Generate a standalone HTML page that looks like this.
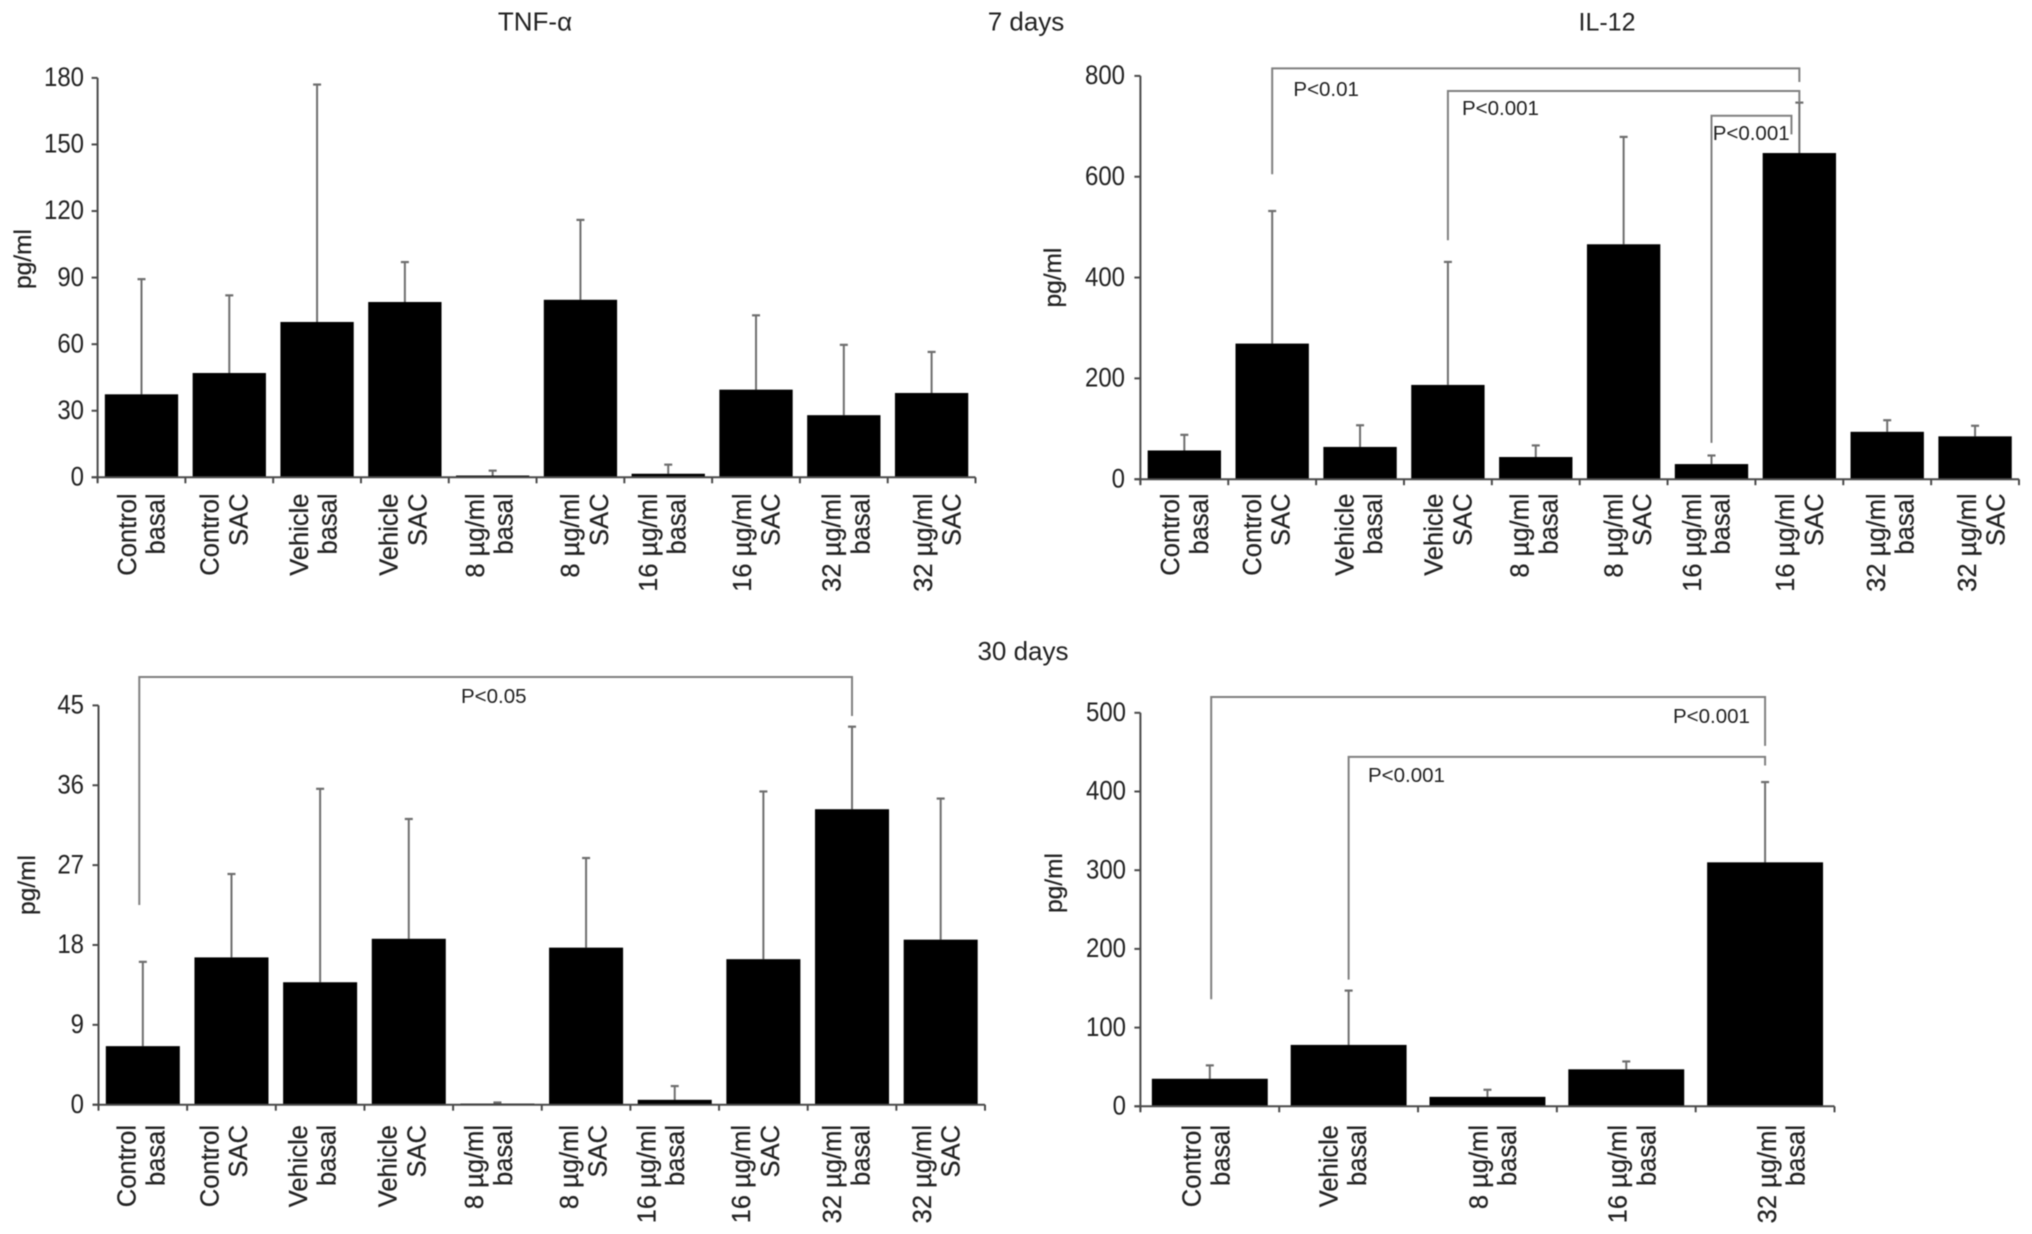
<!DOCTYPE html>
<html lang="en">
<head>
<meta charset="utf-8">
<title>TNF-α and IL-12 at 7 and 30 days</title>
<style>
html,body{margin:0;padding:0;background:#fff;width:2032px;height:1234px;overflow:hidden}
svg{display:block;filter:blur(0.55px)}
text{font-family:"Liberation Sans",sans-serif;fill:#222}
.thick{stroke:#222;stroke-width:0.25px}
</style>
</head>
<body>
<svg id="figure" xmlns="http://www.w3.org/2000/svg" width="2032" height="1234" viewBox="0 0 2032 1234">
<rect x="0" y="0" width="2032" height="1234" fill="#fff"/>
<text x="535" y="30.5" font-size="26" text-anchor="middle">TNF-α</text>
<text x="1026" y="30.5" font-size="26" text-anchor="middle">7 days</text>
<text x="1607" y="30.5" font-size="25" text-anchor="middle">IL-12</text>
<text x="1027" y="660" font-size="26" text-anchor="middle" transform="translate(-4,0)">30 days</text>
</svg>
<script>
// ---- Data ----
const tenGroupLine1 = ['Control','Control','Vehicle','Vehicle','8 µg/ml','8 µg/ml','16 µg/ml','16 µg/ml','32 µg/ml','32 µg/ml'];
const tenGroupLine2 = ['basal','SAC','basal','SAC','basal','SAC','basal','SAC','basal','SAC'];
const fiveGroupLine1 = ['Control','Vehicle','8 µg/ml','16 µg/ml','32 µg/ml'];
const fiveGroupLine2 = ['basal','basal','basal','basal','basal'];

const tnf7Ticks = [0,30,60,90,120,150,180];
const tnf7Means = [37.4,47,70,79,0.8,80,1.6,39.5,28,38];
const tnf7Upper = [89.3,82,177,97,3,116,5.7,73,59.7,56.5];

const il127Ticks = [0,200,400,600,800];
const il127Means = [57,269,64,187,44,466,30,647,94,85];
const il127Upper = [88,532,107,431,67,679,47,747,117,106];

const tnf30Ticks = [0,9,18,27,36,45];
const tnf30Means = [6.6,16.6,13.8,18.7,0.13,17.7,0.55,16.4,33.3,18.6];
const tnf30Upper = [16.1,26,35.6,32.2,0.25,27.8,2.1,35.3,42.6,34.5];

const il1230Ticks = [0,100,200,300,400,500];
const il1230Means = [35,78,12,47,310];
const il1230Upper = [52,147,21,57,412];

// significance brackets: from category, to category, level, left drop, right drop (axis units)
const il127BracketFrom = [1,3,6];
const il127BracketTo = [7,7,6.91];
const il127BracketLevel = [815,770,721];
const il127BracketLeftEnd = [605,474,72];
const il127BracketRightEnd = [788,747,684];

const tnf30BracketFrom = [-0.04];
const tnf30BracketTo = [8];
const tnf30BracketLevel = [48.2];
const tnf30BracketLeftEnd = [22.5];
const tnf30BracketRightEnd = [43.8];

const il1230BracketFrom = [0.01,1];
const il1230BracketTo = [4,4];
const il1230BracketLevel = [520,444];
const il1230BracketLeftEnd = [136,161];
const il1230BracketRightEnd = [458,433];

// ---- Panel layout ----
const panels = [
  {key:'tnf-7-days',x0:97.6,x1:975.5,yTop:77.9,yBase:477.3,max:180,ticks:tnf7Ticks,means:tnf7Means,upper:tnf7Upper,
   line1:tenGroupLine1,line2:tenGroupLine2,labelTop:493.5,titleX:25,titleY:259,tickRight:84,
   nudge:[-14.5,-19.5,-18,-16,-17.5,-10,-20,-14,-12,-8.5],
   br:null},
  {key:'il12-7-days',x0:1140.4,x1:2019,yTop:75.9,yBase:479.2,max:800,ticks:il127Ticks,means:il127Means,upper:il127Upper,
   line1:tenGroupLine1,line2:tenGroupLine2,labelTop:493.5,titleX:1055,titleY:277.6,tickRight:1125,
   nudge:[-14,-20,-15.5,-14,-16,-10,-19.5,-14,-11,-8],
   br:{from:il127BracketFrom,to:il127BracketTo,level:il127BracketLevel,left:il127BracketLeftEnd,right:il127BracketRightEnd}},
  {key:'tnf-30-days',x0:98.5,x1:985,yTop:705.4,yBase:1104.7,max:45,ticks:tnf30Ticks,means:tnf30Means,upper:tnf30Upper,
   line1:tenGroupLine1,line2:tenGroupLine2,labelTop:1125,titleX:29,titleY:885,tickRight:84,
   nudge:[-16,-22,-22,-21,-23,-17,-28,-22,-20,-18.5],
   br:{from:tnf30BracketFrom,to:tnf30BracketTo,level:tnf30BracketLevel,left:tnf30BracketLeftEnd,right:tnf30BracketRightEnd}},
  {key:'il12-30-days',x0:1140.4,x1:1834.5,yTop:712.8,yBase:1106.3,max:500,ticks:il1230Ticks,means:il1230Means,upper:il1230Upper,
   line1:fiveGroupLine1,line2:fiveGroupLine2,labelTop:1125,titleX:1056,titleY:883,tickRight:1126,
   nudge:[-18,-20,-9,-8.5,2],
   br:{from:il1230BracketFrom,to:il1230BracketTo,level:il1230BracketLevel,left:il1230BracketLeftEnd,right:il1230BracketRightEnd}}
];

const pValueNotes = [
  {text:'P<0.01',x:1293.4,y:96},
  {text:'P<0.001',x:1462,y:115},
  {text:'P<0.001',x:1712.7,y:140},
  {text:'P<0.05',x:461,y:703},
  {text:'P<0.001',x:1673,y:723},
  {text:'P<0.001',x:1368,y:782}
];

const NS = 'http://www.w3.org/2000/svg';
const AXIS = '#4a4a4a';
const WHISKER = '#6e6e6e';
const BRACKET = '#808080';
const svg = document.getElementById('figure');

function make(tag, attrs, parent) {
  const node = document.createElementNS(NS, tag);
  for (const k in attrs) node.setAttribute(k, attrs[k]);
  parent.appendChild(node);
  return node;
}
function xBand(p) { return (p.x1 - p.x0) / p.means.length; }
function xCenter(p, i) { return p.x0 + (i + 0.5) * xBand(p); }
function yScale(p, v) { return p.yBase - (v / p.max) * (p.yBase - p.yTop); }

panels.forEach(function (p) {
  const g = make('g', {}, svg);
  
  

  // error whiskers
  p.upper.forEach(function (u, i) {
    const cx = xCenter(p, i), yt = yScale(p, u);
    const stem = make('line', {x1:cx,x2:cx,y1:yScale(p,p.means[i]),y2:yt,stroke:WHISKER,'stroke-width':2}, g);
    
    
    const cap = make('line', {x1:cx-4,x2:cx+4,y1:yt,y2:yt,stroke:WHISKER,'stroke-width':2.2}, g);
    
    
  });

  // bars
  const barW = xBand(p) * 0.835;
  p.means.forEach(function (m, i) {
    const yt = yScale(p, m);
    const bar = make('rect', {x:xCenter(p,i)-barW/2,y:yt,width:barW,height:p.yBase-yt,fill:'#000'}, g);
    
    
  });

  // axes
  const yAxis = make('line', {x1:p.x0,x2:p.x0,y1:p.yTop,y2:p.yBase+5,stroke:AXIS,'stroke-width':2}, g);
  
  
  const xAxis = make('line', {x1:p.x0-6,x2:p.x1,y1:p.yBase,y2:p.yBase,stroke:AXIS,'stroke-width':2}, g);
  
  

  // y ticks
  p.ticks.forEach(function (t) {
    const y = yScale(p, t);
    const tick = make('line', {x1:p.x0-6,x2:p.x0,y1:y,y2:y,stroke:AXIS,'stroke-width':2}, g);
    
    
    const lab = make('text', {'font-size':25.5,'text-anchor':'end',transform:'translate(' + p.tickRight + ',' + (y + 8.2) + ') scale(0.94,1.05)'}, g);
    
    
    lab.textContent = String(t);
  });

  // x ticks
  for (let i = 0; i <= p.means.length; i++) {
    const x = p.x0 + i * xBand(p);
    const tick = make('line', {x1:x,x2:x,y1:p.yBase,y2:p.yBase+6,stroke:AXIS,'stroke-width':2}, g);
    
    
  }

  // category labels (rotated, two lines, aligned to the top)
  p.line1.forEach(function (txt, i) {
    const cx = xCenter(p, i) + p.nudge[i];
    const a = make('text', {class:'thick','font-size':25.5,'text-anchor':'end',transform:'translate(' + (cx + 8.8) + ',' + p.labelTop + ') rotate(-90)'}, g);
    
    
    a.textContent = txt;
    const b = make('text', {class:'thick','font-size':25.5,'text-anchor':'end',transform:'translate(' + (cx + 8.8 + 28.7) + ',' + p.labelTop + ') rotate(-90)'}, g);
    
    
    b.textContent = p.line2[i];
  });

  // y axis title
  const yt = make('text', {class:'thick','font-size':24.5,'text-anchor':'middle',transform:'translate(' + (p.titleX + 6) + ',' + p.titleY + ') rotate(-90)'}, g);
  
  
  yt.textContent = 'pg/ml';

  // significance brackets
  if (p.br) {
    p.br.from.forEach(function (f, i) {
      const xa = xCenter(p, f), xb = xCenter(p, p.br.to[i]);
      const path = 'M' + xa + ' ' + yScale(p, p.br.left[i]) +
        ' L' + xa + ' ' + yScale(p, p.br.level[i]) +
        ' L' + xb + ' ' + yScale(p, p.br.level[i]) +
        ' L' + xb + ' ' + yScale(p, p.br.right[i]);
      const br = make('path', {d:path,fill:'none',stroke:BRACKET,'stroke-width':2}, g);
      
      
    });
  }
});

pValueNotes.forEach(function (n, i) {
  const t = make('text', {x:n.x,y:n.y,'font-size':20.5}, svg);
  
  
  t.textContent = n.text;
});
</script>
</body>
</html>
